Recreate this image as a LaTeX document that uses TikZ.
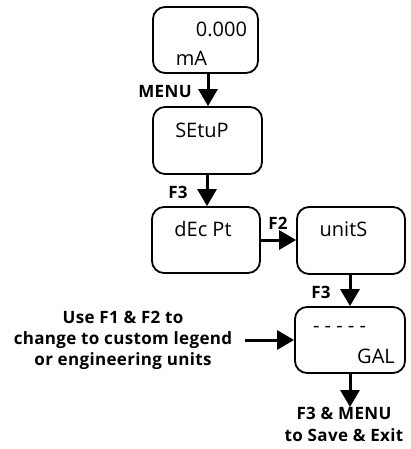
\documentclass[tikz,border=0pt]{standalone}
\usepackage{fontspec}
\setmainfont{Open Sans}
\newfontfamily\lblfont[LetterSpace=2]{Open Sans}
\usetikzlibrary{arrows.meta}
\begin{document}
\begin{tikzpicture}[x=1pt,y=-1pt,
  screen/.style={draw,line width=1.8pt,rounded corners=12pt,inner sep=0pt},
  disp/.style={font=\fontsize{20}{20}\selectfont,inner sep=0pt},
  keylbl/.style={font=\lblfont\fontsize{17}{17}\selectfont\bfseries,inner sep=0pt},
  flow/.style={line width=3pt,-{Triangle[width=19pt,length=17pt]}}]
\useasboundingbox (0,0) rectangle (411,449);
% display screens
\node[screen,minimum width=105pt,minimum height=66pt] (run)   at (205.5,40) {};
\node[screen,minimum width=109pt,minimum height=67pt] (setup) at (207.5,140.5) {};
\node[screen,minimum width=108pt,minimum height=66pt] (dec)   at (206,240) {};
\node[screen,minimum width=108pt,minimum height=67pt] (units) at (351,240.5) {};
\node[screen,minimum width=110pt,minimum height=66pt] (gal)   at (350,340) {};
% screen readouts
\node[disp] (t1) at (221.5,29.5) {0.000};
\node[disp] (t2) at (191.5,58.5) {mA};
\node[disp] (t3) at (202,130) {SEtuP};
\node[disp] (t4) at (203,229) {dEc Pt};
\node[disp] (t5) at (343.5,229) {unitS};
\node[disp] (t6) at (339.5,329) {- - - - -};
\node[disp] (t7) at (376,356) {GAL};
% key labels
\node[keylbl] (k1) at (165,92) {MENU};
\node[keylbl] (k2) at (178,192) {F3};
\node[keylbl] (k3) at (278,223) {F2};
\node[keylbl] (k4) at (321,292) {F3};
\node[keylbl,align=center,font=\lblfont\fontsize{17}{21}\selectfont\bfseries] (note) at (123,340)
  {Use F1 \& F2 to\\change to custom legend\\or engineering units};
\node[keylbl,align=center,font=\lblfont\fontsize{17}{22}\selectfont\bfseries] (exit) at (344,424)
  {F3 \& MENU\\to Save \& Exit};
\coordinate (exitTop) at (350,407);
\coordinate (noteEnd) at (245,340);
% flow arrows
\draw[flow] (run.south -| 208,0) -- (setup.north -| 208,0);
\draw[flow] (setup.south -| 207,0) -- (dec.north -| 207,0);
\draw[flow] (dec.east |- 0,240) -- (units.west |- 0,240);
\draw[flow] (units.south -| 350,0) -- (gal.north -| 350,0);
\draw[flow] (noteEnd) -- (gal.west |- noteEnd);
\draw[flow] (gal.south -| exitTop) -- (exitTop);
\end{tikzpicture}
\end{document}
